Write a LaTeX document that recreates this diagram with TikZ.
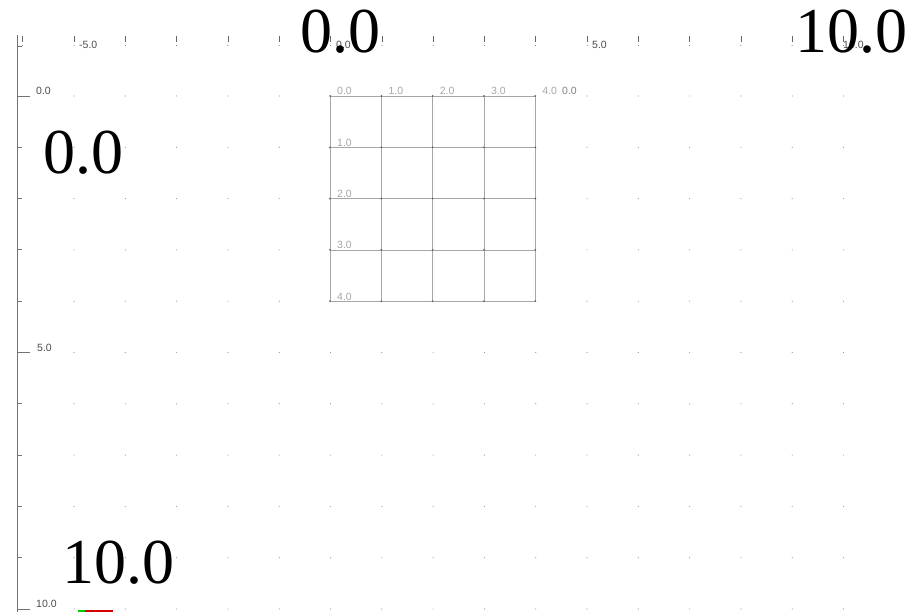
\documentclass[tikz,border=0pt]{standalone}
\usepackage{fontspec}
\setmainfont{Liberation Serif}
\newfontfamily\axfont{Liberation Sans}
\begin{document}
\begin{tikzpicture}[x=1pt,y=-1pt,
  big/.style={font=\fontsize{64}{70}\selectfont, text=black, inner sep=0pt, anchor=base west},
  axlab/.style={font=\axfont\fontsize{10.5}{11}\selectfont, text=black!70, inner sep=0pt, anchor=base west},
  gridlab/.style={font=\axfont\fontsize{10.5}{11}\selectfont, text=black!35, inner sep=0pt, anchor=base west},
  axline/.style={draw=black!55, line width=0.8pt},
  gline/.style={draw=black!35, line width=0.7pt},
  gdot/.style={fill=black!40},
  ndot/.style={fill=black!60}]
\useasboundingbox (0,0) rectangle (910,612);
% dot grid
\foreach \i in {0,...,15}{
  \foreach \j in {0,...,10}{
    \fill[gdot] ({74+51.3*\i},{96+51.3*\j}) circle (0.6);
  }
}
% vertical axis
\draw[axline] (17,35) -- (17,612);
\draw[axline] (17,46) -- (22,46);
% left ticks
\foreach \j in {0,...,10}{
  \draw[axline] (17,{96+51.3*\j}) -- (22,{96+51.3*\j});
}
\foreach \j in {0,5,10}{
  \draw[axline] (17,{96+51.3*\j}) -- (30,{96+51.3*\j});
}
% top ruler marks
\foreach \i in {-1,0,...,15}{
  \draw[draw=black!60, line width=0.6pt] ({74+51.3*\i},36) -- ({74+51.3*\i},42);
  \fill[black!60] ({74+51.3*\i},45.5) circle (0.5);
}
\node[axlab] (tm5) at (79,49) {-5.0};
\node[axlab] (t0) at (336,49) {0.0};
\node[axlab] (t5) at (592,49) {5.0};
\node[axlab] (t10) at (843,49) {10.0};
\node[axlab] (l0) at (36,95) {0.0};
\node[axlab] (l5) at (37,351) {5.0};
\node[axlab] (l10) at (36,607) {10.0};
% 4x4 grid
\foreach \k in {0,...,4}{
  \draw[gline] ({330+51.3*\k},96) -- ({330+51.3*\k},301.2);
  \draw[gline] (330,{96+51.3*\k}) -- (535.2,{96+51.3*\k});
}
\foreach \i in {0,...,4}{
  \foreach \j in {0,...,4}{
    \fill[ndot] ({330+51.3*\i},{96+51.3*\j}) circle (1.0);
  }
}
\foreach \k/\t in {0/0.0,1/1.0,2/2.0,3/3.0,4/4.0}{
  \node[gridlab] (c\k) at ({337+51.3*\k},95) {\t};
}
\foreach \k/\t in {1/1.0,2/2.0,3/3.0,4/4.0}{
  \node[gridlab] (r\k) at (337,{95+51.3*\k}) {\t};
}
\node[gridlab, text=black!50] (x0) at (562,95) {0.0};
% big labels
\node[big] (b1) at (300,53) {0.0};
\node[big] (b2) at (795,53) {10.0};
\node[big] (b3) at (43,174) {0.0};
\node[big] (b4) at (62,583) {10.0};
% colour bar
\draw[green!80!black, line width=1.2pt] (78,611) -- (85,611);
\draw[red!85!black, line width=1.2pt] (85,611) -- (113,611);
\end{tikzpicture}
\end{document}
